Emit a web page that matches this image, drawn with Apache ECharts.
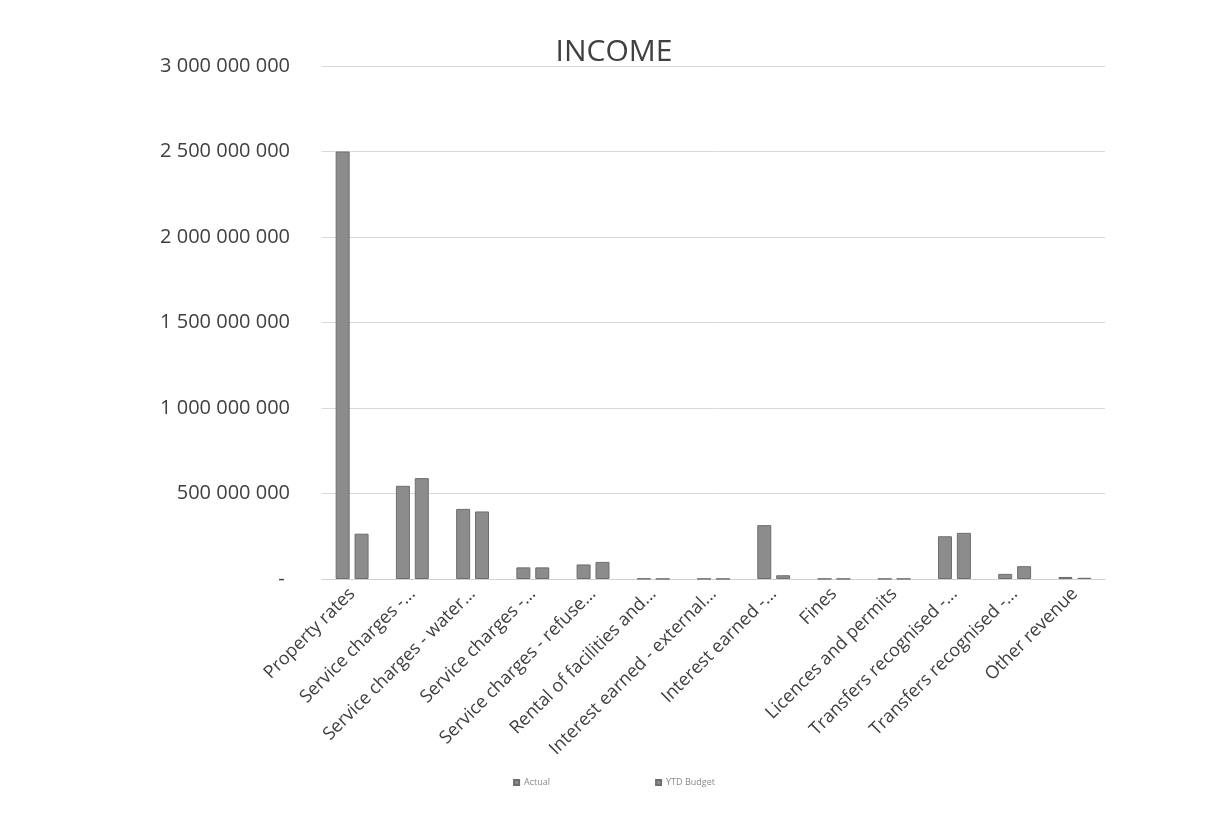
<!DOCTYPE html>
<html>
<head>
<meta charset="utf-8">
<script src="https://cdn.jsdelivr.net/npm/echarts@6/dist/echarts.min.js"></script>
<style>
html,body{margin:0;padding:0;background:#fff;}
#c{width:1228px;height:817px;}
</style>
</head>
<body>
<div id="c"></div>
<script>
const categories = [
  "Property rates",
  "Service charges -...",
  "Service charges - water...",
  "Service charges -...",
  "Service charges - refuse...",
  "Rental of facilities and...",
  "Interest earned - external...",
  "Interest earned -...",
  "Fines",
  "Licences and permits",
  "Transfers recognised -...",
  "Transfers recognised -...",
  "Other revenue"
];
const actual = [2500000000, 545000000, 410000000, 68000000, 85000000, 2000000, 1000000, 315000000, 1000000, 1000000, 250000000, 30000000, 12000000];
const ytdBudget = [265000000, 590000000, 395000000, 68000000, 100000000, 1000000, 1000000, 22000000, 1000000, 1000000, 270000000, 75000000, 7000000];
const seriesNames = ["Actual", "YTD Budget"];
const yTicks = { min: 0, max: 3000000000, interval: 500000000 };

function fmt(v) {
  if (v === 0) return "- ";
  return String(v).replace(/\B(?=(\d{3})+(?!\d))/g, " ");
}

const chart = echarts.init(document.getElementById('c'));
const barStyle = { color: '#8c8c8c', borderColor: '#6e6e6e', borderWidth: 1 };
chart.setOption({
  backgroundColor: '#ffffff',
  animation: false,
  textStyle: { fontFamily: 'Open Sans' },
  title: {
    text: 'INCOME', left: 'center', top: 32,
    textStyle: { fontSize: 30, fontWeight: 'normal', color: '#404040', fontFamily: 'Open Sans' }
  },
  legend: {
    data: seriesNames, bottom: 25, left: 'center', itemGap: 105,
    itemWidth: 5, itemHeight: 5, icon: 'rect',
    textStyle: { fontSize: 9, color: '#888' }
  },
  grid: { left: 322, right: 123, top: 66, bottom: 238, containLabel: false },
  xAxis: {
    type: 'category', data: categories,
    axisLine: { lineStyle: { color: '#d0d0d0' } },
    axisTick: { show: false },
    axisLabel: { rotate: 45, fontSize: 18, color: '#404040', interval: 0, margin: 12 }
  },
  yAxis: {
    type: 'value', min: yTicks.min, max: yTicks.max, interval: yTicks.interval,
    axisLine: { show: false }, axisTick: { show: false },
    axisLabel: { fontSize: 20, color: '#404040', margin: 32, formatter: fmt },
    splitLine: { lineStyle: { color: '#d9d9d9' } }
  },
  series: [
    { name: seriesNames[0], type: 'bar', data: actual, barWidth: 14, barGap: '35%', itemStyle: barStyle },
    { name: seriesNames[1], type: 'bar', data: ytdBudget, barWidth: 14, itemStyle: barStyle }
  ]
});
</script>
</body>
</html>
